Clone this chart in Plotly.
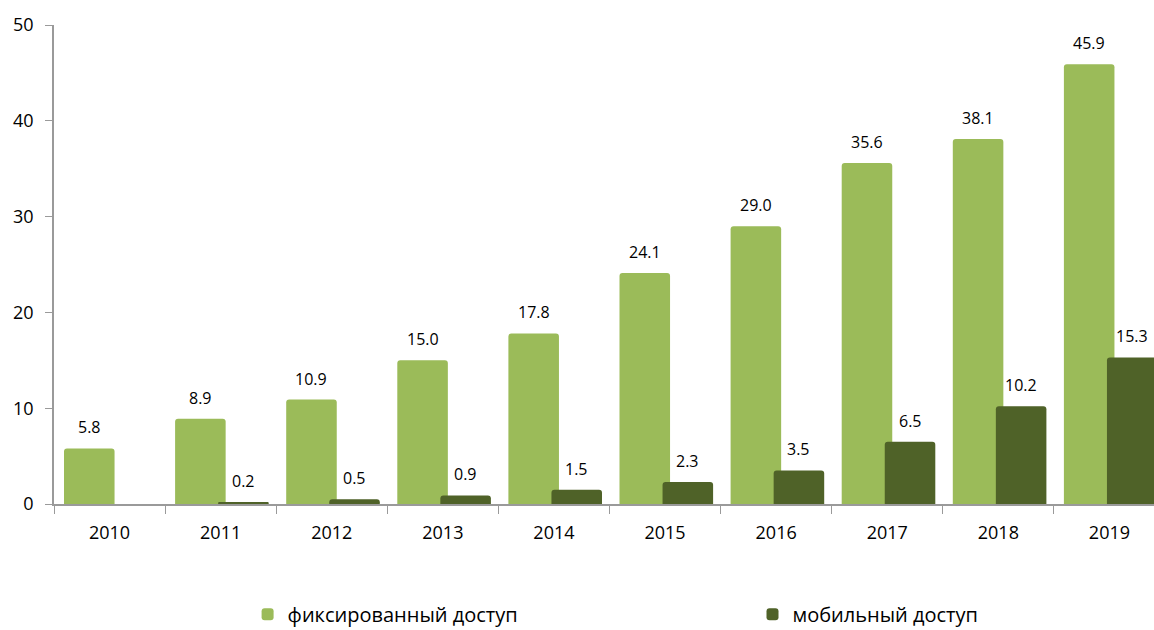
import plotly.graph_objects as go

years = ["2010", "2011", "2012", "2013", "2014", "2015", "2016", "2017", "2018", "2019"]
fixed = [5.8, 8.9, 10.9, 15.0, 17.8, 24.1, 29.0, 35.6, 38.1, 45.9]
mobile = [None, 0.2, 0.5, 0.9, 1.5, 2.3, 3.5, 6.5, 10.2, 15.3]
y_ticks = [0, 10, 20, 30, 40, 50]

FIXED_COLOR = "#9BBB59"
MOBILE_COLOR = "#4F6228"
FONT = "Open Sans"

BAR_W = 0.455
OFF_FIXED = -0.41
OFF_MOBILE = -0.0225

fig = go.Figure()
fig.add_trace(go.Bar(
    x=years, y=fixed, name="фиксированный доступ",
    marker=dict(color=FIXED_COLOR, cornerradius=3, line=dict(width=0)),
    width=BAR_W, offset=OFF_FIXED, legend="legend",
))
fig.add_trace(go.Bar(
    x=years, y=mobile, name="мобильный доступ",
    marker=dict(color=MOBILE_COLOR, cornerradius=3, line=dict(width=0)),
    width=BAR_W, offset=OFF_MOBILE, legend="legend2",
))

annotations = []
for i, (f, m) in enumerate(zip(fixed, mobile)):
    annotations.append(dict(
        x=i + OFF_FIXED + BAR_W / 2, y=f, xref="x", yref="y",
        text=f"{f:.1f}", showarrow=False, yanchor="bottom", yshift=8,
        font=dict(family=FONT, size=16, color="#000000"),
    ))
    if m is not None:
        annotations.append(dict(
            x=i + OFF_MOBILE + BAR_W / 2, y=m, xref="x", yref="y",
            text=f"{m:.1f}", showarrow=False, yanchor="bottom", yshift=8,
            font=dict(family=FONT, size=16, color="#000000"),
        ))

legend_common = dict(
    orientation="h", yref="container", yanchor="middle", y=0.025,
    font=dict(family=FONT, size=20, color="#000000"),
    bgcolor="rgba(0,0,0,0)", borderwidth=0,
)

fig.update_layout(
    width=1154, height=630,
    margin=dict(l=54, r=0, t=25, b=125.5),
    paper_bgcolor="white", plot_bgcolor="white",
    barmode="overlay",
    font=dict(family=FONT, size=18, color="#000000"),
    showlegend=True,
    legend=dict(x=0.176, xanchor="left", **legend_common),
    legend2=dict(x=0.635, xanchor="left", **legend_common),
    annotations=annotations,
    xaxis=dict(
        type="category", range=[-0.5, 9.401],
        showline=True, linecolor="#9A9A9A", linewidth=1.5,
        ticks="outside", tickson="boundaries", ticklen=8, tickcolor="#9A9A9A",
        ticklabelstandoff=12,
        tickfont=dict(family=FONT, size=18, color="#000000"),
        showgrid=False, zeroline=False,
    ),
    yaxis=dict(
        range=[0, 50], tickvals=y_ticks,
        showline=True, linecolor="#9A9A9A", linewidth=1.5,
        ticks="outside", ticklen=7, tickcolor="#9A9A9A",
        ticklabelstandoff=8,
        tickfont=dict(family=FONT, size=18, color="#000000"),
        showgrid=False, zeroline=False,
    ),
)

fig.write_html("out.html")
